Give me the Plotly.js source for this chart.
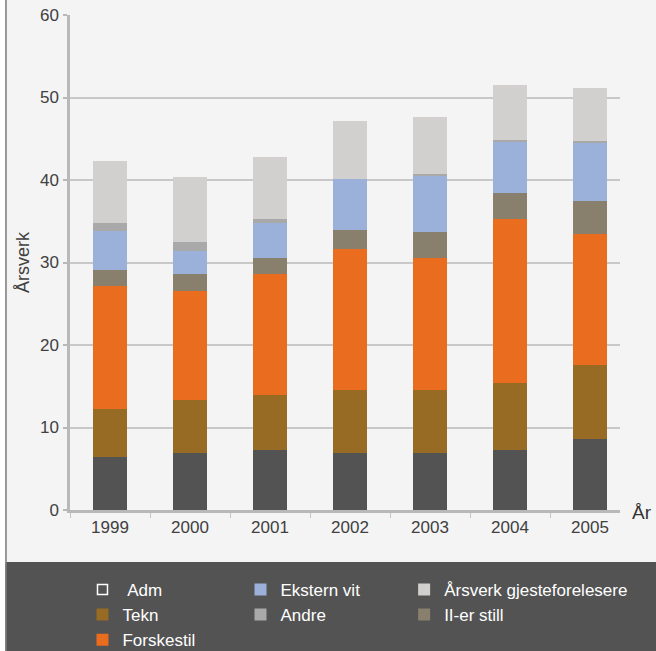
<!DOCTYPE html>
<html>
<head>
<meta charset="utf-8">
<script src="https://cdn.plot.ly/plotly-3.0.1.min.js"></script>
<style>
html,body{margin:0;padding:0;background:#ffffff;}
#chart{width:656px;height:651px;}
</style>
</head>
<body>
<div id="chart"></div>
<script>
const years = ['1999', '2000', '2001', '2002', '2003', '2004', '2005'];
const adm = [6.4, 6.9, 7.3, 6.9, 6.9, 7.3, 8.6];
const tekn = [5.8, 6.4, 6.6, 7.6, 7.6, 8.1, 9.0];
const forskestil = [15.0, 13.2, 14.7, 17.1, 16.0, 19.9, 15.9];
const ilerStill = [1.9, 2.1, 1.9, 2.4, 3.2, 3.1, 3.9];
const eksternVit = [4.7, 2.8, 4.3, 6.1, 6.8, 6.3, 7.1];
const andre = [1.0, 1.1, 0.5, 0.0, 0.2, 0.2, 0.2];
const gjesteforelesere = [7.5, 7.9, 7.5, 7.0, 6.9, 6.6, 6.4];
const yTicks = [0, 10, 20, 30, 40, 50, 60];

const FONT = 'Liberation Sans, Arial, sans-serif';

function bar(name, values, color, legendId, rank, showlegend) {
  return {
    type: 'bar', name: name, x: years, y: values,
    marker: {color: color, line: {width: 0}},
    legend: legendId, legendrank: rank, showlegend: showlegend,
    hoverinfo: 'name+y'
  };
}

const traces = [
  bar('Adm', adm, '#535353', 'legend', 1, false),
  bar('Tekn', tekn, '#976b23', 'legend', 2, true),
  bar('Forskestil', forskestil, '#ea6c1f', 'legend', 3, true),
  bar('II-er still', ilerStill, '#88806d', 'legend3', 2, true),
  bar('Ekstern vit', eksternVit, '#9cb1da', 'legend2', 1, true),
  bar('Andre', andre, '#a9a9a9', 'legend2', 2, true),
  bar('Årsverk gjesteforelesere', gjesteforelesere, '#d1d0ce', 'legend3', 1, true),
  {
    type: 'scatter', mode: 'markers', name: '\u00a0Adm', x: [null], y: [null],
    legend: 'legend', legendrank: 1, showlegend: true, hoverinfo: 'skip',
    marker: {symbol: 'square', size: 10, color: '#535353', line: {color: '#ffffff', width: 1.5}}
  }
];

function legendAt(x) {
  return {
    orientation: 'v', x: x, xanchor: 'left', y: -0.125, yanchor: 'top',
    traceorder: 'normal',
    font: {family: FONT, size: 17, color: '#ffffff'},
    bgcolor: 'rgba(0,0,0,0)'
  };
}

const layout = {
  width: 656, height: 651,
  margin: {l: 70, r: 36, t: 15, b: 141, autoexpand: false},
  paper_bgcolor: '#f4f4f4',
  plot_bgcolor: '#f4f4f4',
  barmode: 'stack',
  bargap: 0.58,
  font: {family: FONT, size: 17, color: '#404040'},
  showlegend: true,
  legend: legendAt(0.0227),
  legend2: legendAt(0.31),
  legend3: legendAt(0.6075),
  xaxis: {
    type: 'category', range: [-0.5, 6.375],
    tickson: 'boundaries', ticks: 'outside', ticklen: 5, tickcolor: '#c4c4c4', tickwidth: 1,
    showline: true, linecolor: '#b8b8b8', linewidth: 2.5,
    showgrid: false, zeroline: false,
    tickfont: {family: FONT, size: 17, color: '#404040'}
  },
  yaxis: {
    range: [0, 60], tickvals: yTicks, ticktext: yTicks.map(String),
    ticks: 'outside', ticklen: 4, tickcolor: '#b8b8b8', tickwidth: 1.5,
    showline: true, linecolor: '#b8b8b8', linewidth: 2.5,
    showgrid: true, gridcolor: '#c8c8c8', gridwidth: 1.5, zeroline: false,
    tickfont: {family: FONT, size: 17, color: '#404040'},
    ticklabelstandoff: 1,
    title: {text: 'Årsverk', font: {family: FONT, size: 18, color: '#404040'}, standoff: 6}
  },
  annotations: [{
    text: 'År', xref: 'paper', yref: 'paper', x: 1, y: 0,
    xanchor: 'left', yanchor: 'middle', xshift: 10, yshift: -2, showarrow: false,
    font: {family: FONT, size: 19, color: '#333333'}
  }],
  shapes: [
    {type: 'rect', xref: 'paper', yref: 'paper', x0: -0.2, x1: 1.2, y0: -0.105, y1: -0.5,
     fillcolor: '#535353', line: {width: 0}, layer: 'below'},
    {type: 'rect', xref: 'paper', yref: 'paper', x0: -0.2, x1: -0.1173, y0: -0.5, y1: 1.2,
     fillcolor: '#ffffff', line: {width: 0}, layer: 'below'},
    {type: 'line', xref: 'paper', yref: 'paper', x0: -0.1164, x1: -0.1164, y0: -0.5, y1: 1.2,
     line: {color: '#7a7a7a', width: 1.5}, layer: 'below'}
  ]
};

Plotly.newPlot('chart', traces, layout, {displayModeBar: false, responsive: false});
</script>
</body>
</html>
